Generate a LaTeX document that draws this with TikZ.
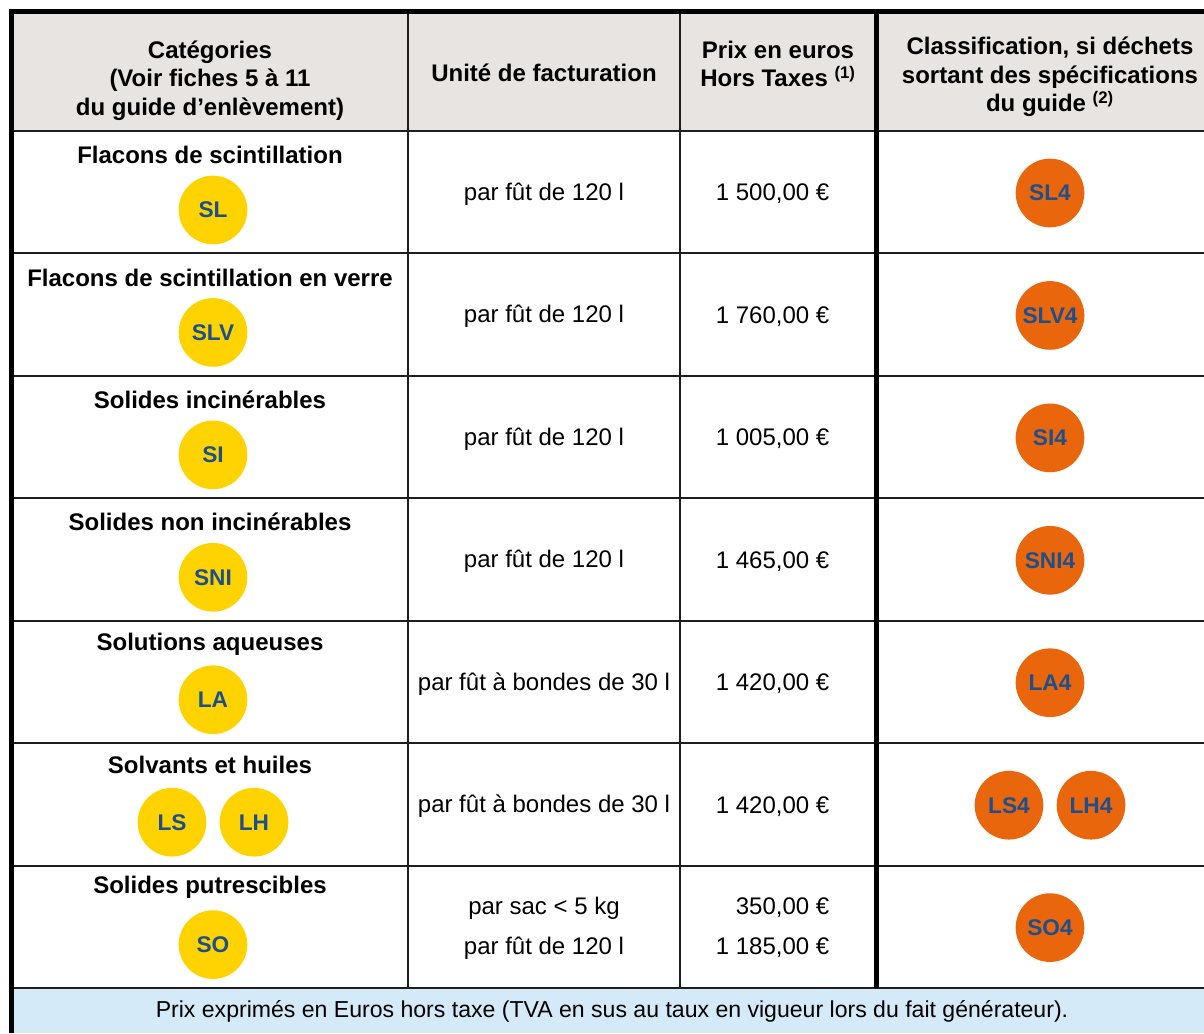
\documentclass[tikz,border=0pt]{standalone}
\usepackage{fontspec}
\setmainfont{Liberation Sans}
\usetikzlibrary{positioning}

\definecolor{headgray}{HTML}{E8E4E1}
\definecolor{footblue}{HTML}{D5EAF8}
\definecolor{pastjaune}{HTML}{FFD300}
\definecolor{pastorange}{HTML}{EA660C}
\definecolor{codebleu}{HTML}{1B4F8E}
\definecolor{trait}{HTML}{1E1E1E}

\begin{document}
\begin{tikzpicture}[x=0.75pt,y=-0.75pt,
    entete/.style={font=\fontsize{18}{21.5}\selectfont\bfseries, align=center},
    texte/.style={font=\fontsize{18}{21.5}\selectfont},
    jaune/.style={circle, fill=pastjaune, minimum size=51.5pt, inner sep=0pt,
        text=codebleu, font=\fontsize{17}{18}\selectfont\bfseries},
    orange/.style={jaune, fill=pastorange}]

\useasboundingbox (0,0) rectangle (1204,1033);

% fonds
\fill[headgray] (12,12) rectangle (1204,131);
\fill[footblue] (12,988) rectangle (1204,1033);

% lignes
\foreach \r in {1,...,7} {
        \draw[trait, line width=1.5pt] (12,131+122.43*\r) -- (1204,131+122.43*\r);
}
\draw[trait, line width=1.5pt] (12,131) -- (1204,131);
\draw[trait, line width=1.1pt] (408,12) -- (408,988);
\draw[trait, line width=1.1pt] (680,12) -- (680,988);
\draw[black, line width=3.75pt] (876.5,12) -- (876.5,988);
\draw[black, line width=3.75pt] (9,11.5) -- (1204,11.5);
\draw[black, line width=3.75pt] (11.5,9) -- (11.5,1033);

% entete
\node[entete] (hcat) at (210,80.5) {Catégories\\(Voir fiches 5 à 11\\du guide d’enlèvement)};
\node[entete] (hunite) at (544,73) {Unité de facturation};
\node[entete] (hprix) at (778,64) {Prix en euros\\Hors Taxes \textsuperscript{(1)}};
\node[entete] (hclass) at (1050,77) {Classification, si déchets\\sortant des spécifications\\du guide \textsuperscript{(2)}};

% lignes simples
\foreach \i/\titre/\code/\prix in {0/Flacons de scintillation/SL/1 500,
        1/Flacons de scintillation en verre/SLV/1 760,
        2/Solides incinérables/SI/1 005,
        3/Solides non incinérables/SNI/1 465,
        4/Solutions aqueuses/LA/1 420} {
    \node[entete] (titre\i) at (210,131+122.43*\i+24) {\titre};
    \node[jaune] (code\i) at (213,131+122.43*\i+79) {\code};
    \node[texte] (unite\i) at (544,131+122.43*\i+63) {\ifnum\i=4 par fût à bondes de 30 l\else par fût de 120 l\fi};
    \node[texte, anchor=east] (prix\i) at (834,131+122.43*\i+63) {\prix,00 €};
    \node[orange] (class\i) at (1050,131+122.43*\i+62) {\code4};
}

% solvants et huiles
\node[entete] (titre5) at (210,743.2+22) {Solvants et huiles};
\node[jaune] (codeLS) at (172,743.2+79) {LS};
\node[jaune] (codeLH) at (254,743.2+79) {LH};
\node[texte] (unite5) at (544,743.2+63) {par fût à bondes de 30 l};
\node[texte, anchor=east] (prix5) at (834,743.2+63) {1 420,00 €};
\node[orange] (classLS) at (1009,743.2+62) {LS4};
\node[orange] (classLH) at (1091,743.2+62) {LH4};

% solides putrescibles
\node[entete] (titre6) at (210,865.6+22) {Solides putrescibles};
\node[jaune] (code6) at (213,865.6+79) {SO};
\node[texte] (unitesac) at (544,908) {par sac < 5 kg};
\node[texte] (unitefut) at (544,948) {par fût de 120 l};
\node[texte, anchor=east] (prixsac) at (834,908) {350,00 €};
\node[texte, anchor=east] (prixfut) at (834,948) {1 185,00 €};
\node[orange] (class6) at (1050,865.6+62) {SO4};

\node[texte, font=\fontsize{17.3}{20}\selectfont] (pied) at (612,1011) {Prix exprimés en Euros hors taxe (TVA en sus au taux en vigueur lors du fait générateur).};

\end{tikzpicture}
\end{document}
